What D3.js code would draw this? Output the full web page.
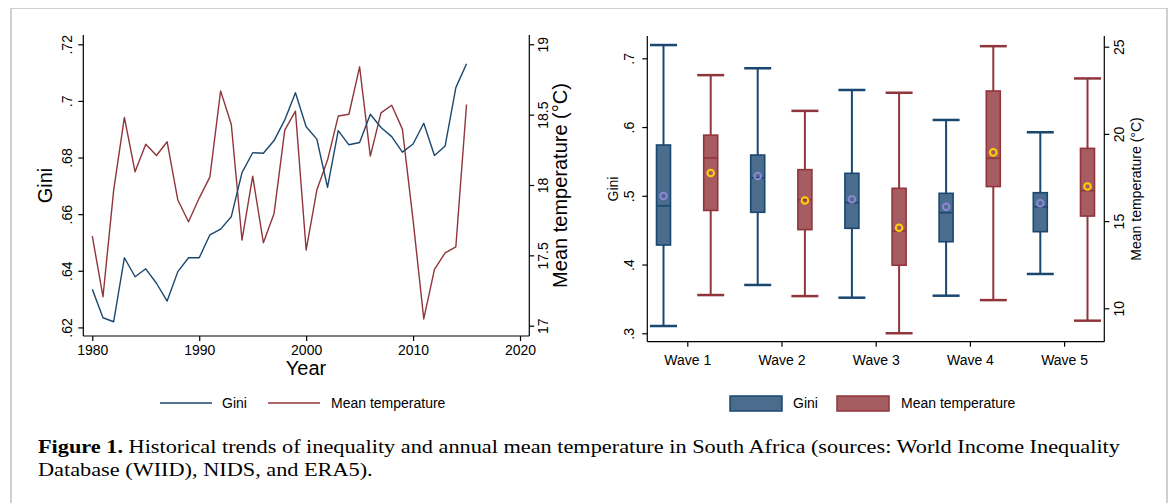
<!DOCTYPE html>
<html><head><meta charset="utf-8">
<script src="https://cdn.jsdelivr.net/npm/d3@7"></script>
<style>
html,body{margin:0;padding:0;background:#fff;}
svg{display:block;}
text{font-family:"Liberation Sans",Arial,sans-serif;fill:#000;}
</style></head>
<body>
<svg id="chart" width="1170" height="503"></svg>
<script>
// ---------- data ----------
const years = [1980,1981,1982,1983,1984,1985,1986,1987,1988,1989,1990,1991,1992,1993,1994,1995,1996,1997,1998,1999,2000,2001,2002,2003,2004,2005,2006,2007,2008,2009,2010,2011,2012,2013,2014,2015];
const giniSeries = [0.6335,0.6234,0.6220,0.6446,0.6379,0.6407,0.6356,0.6293,0.6397,0.6446,0.6446,0.6527,0.6547,0.6591,0.6747,0.6817,0.6815,0.6860,0.6933,0.7029,0.6909,0.6865,0.6695,0.6895,0.6845,0.6853,0.6953,0.6906,0.6874,0.6819,0.6848,0.6921,0.6807,0.6841,0.7047,0.7131];
const tempSeries = [17.637,17.206,17.964,18.480,18.094,18.290,18.210,18.307,17.893,17.739,17.907,18.058,18.669,18.430,17.609,18.063,17.590,17.798,18.390,18.525,17.538,17.964,18.177,18.490,18.503,18.840,18.205,18.513,18.567,18.397,17.750,17.048,17.400,17.518,17.561,18.572];
const yearTicks = [1980,1990,2000,2010,2020];
const giniTicksL = [0.62,0.64,0.66,0.68,0.70,0.72];
const giniTickLabelsL = [".62",".64",".66",".68",".7",".72"];
const tempTicksL = [17,17.5,18,18.5,19];

const waves = ["Wave 1","Wave 2","Wave 3","Wave 4","Wave 5"];
// box stats: [lowerWhisker, q1, median, q3, upperWhisker, mean]
const giniBox = [
  [0.3106,0.4284,0.4854,0.5739,0.7193,0.4997],
  [0.3703,0.4760,0.5263,0.5593,0.6855,0.5288],
  [0.3518,0.4527,0.4900,0.5327,0.6539,0.4949],
  [0.3547,0.4332,0.4754,0.5036,0.6103,0.4841],
  [0.3863,0.4478,0.4841,0.5045,0.5924,0.4891]
];
const tempBox = [
  [10.76,15.61,18.62,19.93,23.37,17.76],
  [10.70,14.51,16.22,17.95,21.32,16.18],
  [8.57,12.47,14.43,16.88,22.36,14.62],
  [10.47,16.98,18.60,22.46,25.03,18.94],
  [9.29,15.29,16.75,19.17,23.18,16.98]
];
const giniTicksR = [0.3,0.4,0.5,0.6,0.7];
const giniTickLabelsR = [".3",".4",".5",".6",".7"];
const tempTicksR = [10,15,20,25];
const legendLabels = ["Gini","Mean temperature"];
const captionBold = "Figure 1.";
const captionLine1 = " Historical trends of inequality and annual mean temperature in South Africa (sources: World Income Inequality";
const captionLine2 = "Database (WIID), NIDS, and ERA5).";

// ---------- styles ----------
const BLUE = "#1a476f", RED = "#90353b";
const BLUE_F = "#4a6d8d", RED_F = "#a65d62";
const svg = d3.select("#chart");

// figure frame
svg.append("line").attr("x1",11).attr("x2",1167).attr("y1",8.5).attr("y2",8.5).attr("stroke","#cfcfcf").attr("stroke-width",1);
svg.append("line").attr("x1",11).attr("x2",11).attr("y1",8).attr("y2",503).attr("stroke","#cfcfcf").attr("stroke-width",2);
svg.append("line").attr("x1",1167).attr("x2",1167).attr("y1",8).attr("y2",503).attr("stroke","#cfcfcf").attr("stroke-width",2);

function styleAxis(g, labels, offset){
  g.select(".domain").attr("stroke","#000").attr("stroke-width",1.2);
  g.selectAll(".tick line").attr("stroke","#000").attr("stroke-width",1.2);
  g.selectAll(".tick text").attr("font-size",14).attr("font-family","Liberation Sans, Arial, sans-serif").attr("fill","#000");
  if(offset!==undefined){
    g.selectAll(".tick text")
      .attr("x",0).attr("dy",0).attr("y",offset)
      .attr("transform","rotate(-90)").attr("text-anchor","middle");
  }
}

// ================= LEFT CHART =================
const xL = d3.scaleLinear().domain([1980,2020]).range([92.3,520]);
const yG = d3.scaleLinear().domain([0.62,0.72]).range([327.4,44.3]);
const yT = d3.scaleLinear().domain([17,19]).range([325.7,44.3]);
const L = {left:83.3, right:529.3, top:35, bottom:336};

const gx = svg.append("g").attr("transform",`translate(0,${L.bottom})`)
  .call(d3.axisBottom(xL).tickValues(yearTicks).tickFormat(d3.format("d")).tickSize(5).tickSizeOuter(0).tickPadding(3));
gx.select(".domain").attr("d",`M${L.left},0H${L.right}`);
styleAxis(gx);
gx.selectAll(".tick text").attr("y",14).attr("dy","0.35em");

const gyl = svg.append("g").attr("transform",`translate(${L.left},0)`)
  .call(d3.axisLeft(yG).tickValues(giniTicksL).tickFormat((d,i)=>giniTickLabelsL[i]).tickSize(5).tickSizeOuter(0));
gyl.select(".domain").attr("d",`M0,${L.top}V${L.bottom}`);
styleAxis(gyl,null,-11);

const gyr = svg.append("g").attr("transform",`translate(${L.right},0)`)
  .call(d3.axisRight(yT).tickValues(tempTicksL).tickFormat(d=>String(d)).tickSize(5).tickSizeOuter(0));
gyr.select(".domain").attr("d",`M0,${L.top}V${L.bottom}`);
styleAxis(gyr,null,19);

const lineG = d3.line().x((d,i)=>xL(years[i])).y(d=>yG(d));
const lineT = d3.line().x((d,i)=>xL(years[i])).y(d=>yT(d));
svg.append("path").attr("d",lineT(tempSeries)).attr("fill","none").attr("stroke",RED).attr("stroke-width",1.4).attr("stroke-linejoin","round");
svg.append("path").attr("d",lineG(giniSeries)).attr("fill","none").attr("stroke",BLUE).attr("stroke-width",1.4).attr("stroke-linejoin","round");

svg.append("text").attr("transform","translate(52,185.5) rotate(-90)").attr("text-anchor","middle").attr("font-size",20).text("Gini");
svg.append("text").attr("transform","translate(567,185.5) rotate(-90)").attr("text-anchor","middle").attr("font-size",20).text("Mean temperature (°C)");
svg.append("text").attr("x",306).attr("y",375).attr("text-anchor","middle").attr("font-size",20).text("Year");

// left legend
const legL = svg.append("g");
[[160,212,BLUE,222],[268,320,RED,331]].forEach((c,i)=>{
  legL.append("line").attr("x1",c[0]).attr("x2",c[1]).attr("y1",403).attr("y2",403).attr("stroke",c[2]).attr("stroke-width",1.5);
  legL.append("text").attr("x",c[3]).attr("y",408).attr("font-size",14).text(legendLabels[i]);
});

// ================= RIGHT CHART =================
const R = {left:647.3, right:1104.3, top:36, bottom:341.7};
const xW = d3.scalePoint().domain(waves).range([687.3,1064.1]);
const yGR = d3.scaleLinear().domain([0.3,0.7]).range([333.3,58.3]);
const yTR = d3.scaleLinear().domain([10,25]).range([308.3,46.7]);

const gxw = svg.append("g").attr("transform",`translate(0,${R.bottom})`)
  .call(d3.axisBottom(xW).tickSize(5).tickSizeOuter(0));
gxw.select(".domain").attr("d",`M${R.left},0H${R.right}`);
styleAxis(gxw);
gxw.selectAll(".tick text").attr("y",14).attr("dy","0.7em");

const gyl2 = svg.append("g").attr("transform",`translate(${R.left},0)`)
  .call(d3.axisLeft(yGR).tickValues(giniTicksR).tickFormat((d,i)=>giniTickLabelsR[i]).tickSize(5).tickSizeOuter(0));
gyl2.select(".domain").attr("d",`M0,${R.top}V${R.bottom}`);
styleAxis(gyl2,null,-13);

const gyr2 = svg.append("g").attr("transform",`translate(${R.right},0)`)
  .call(d3.axisRight(yTR).tickValues(tempTicksR).tickFormat(d=>String(d)).tickSize(5).tickSizeOuter(0));
gyr2.select(".domain").attr("d",`M0,${R.top}V${R.bottom}`);
styleAxis(gyr2,null,20);

svg.append("text").attr("transform","translate(618.3,189) rotate(-90)").attr("text-anchor","middle").attr("font-size",14).text("Gini");
svg.append("text").attr("transform","translate(1141,189) rotate(-90)").attr("text-anchor","middle").attr("font-size",14).text("Mean temperature (°C)");

function drawBoxes(data, y, dx, stroke, fill, meanCol){
  const g = svg.append("g");
  const bw = 14, cw = 27;
  data.forEach((s,i)=>{
    const cx = xW(waves[i]) + dx;
    // whiskers
    g.append("line").attr("x1",cx).attr("x2",cx).attr("y1",y(s[4])).attr("y2",y(s[3])).attr("stroke",stroke).attr("stroke-width",2);
    g.append("line").attr("x1",cx).attr("x2",cx).attr("y1",y(s[1])).attr("y2",y(s[0])).attr("stroke",stroke).attr("stroke-width",2);
    g.append("line").attr("x1",cx-cw/2).attr("x2",cx+cw/2).attr("y1",y(s[4])).attr("y2",y(s[4])).attr("stroke",stroke).attr("stroke-width",2.5);
    g.append("line").attr("x1",cx-cw/2).attr("x2",cx+cw/2).attr("y1",y(s[0])).attr("y2",y(s[0])).attr("stroke",stroke).attr("stroke-width",2.5);
    // box
    g.append("rect").attr("x",cx-bw/2).attr("y",y(s[3])).attr("width",bw).attr("height",y(s[1])-y(s[3]))
      .attr("fill",fill).attr("stroke",stroke).attr("stroke-width",1.6);
    g.append("line").attr("x1",cx-bw/2).attr("x2",cx+bw/2).attr("y1",y(s[2])).attr("y2",y(s[2])).attr("stroke",stroke).attr("stroke-width",1.6);
    // mean marker
    g.append("circle").attr("cx",cx).attr("cy",y(s[5])).attr("r",3.3).attr("fill","none").attr("stroke",meanCol).attr("stroke-width",2);
  });
}
drawBoxes(giniBox, yGR, -23.8, BLUE, BLUE_F, "#8f86d6");
drawBoxes(tempBox, yTR, 23.4, RED, RED_F, "#ffd200");

// right legend
const legR = svg.append("g");
[[730,BLUE,BLUE_F,793],[837,RED,RED_F,901]].forEach((c,i)=>{
  legR.append("rect").attr("x",c[0]).attr("y",396).attr("width",52).attr("height",15).attr("fill",c[2]).attr("stroke",c[1]).attr("stroke-width",1.5);
  legR.append("text").attr("x",c[3]).attr("y",408).attr("font-size",14).text(legendLabels[i]);
});

// ================= CAPTION =================
const cap = svg.append("g").attr("font-family","Liberation Serif, Times New Roman, serif");
const t1 = cap.append("text").attr("font-size",18.5).style("font-family","Liberation Serif, serif");
t1.append("tspan").attr("font-weight","bold").text(captionBold);
t1.append("tspan").text(captionLine1);
const t2 = cap.append("text").attr("font-size",18.5).style("font-family","Liberation Serif, serif").text(captionLine2);
const w1 = t1.node().getComputedTextLength();
const k = 1083 / w1;
t1.attr("transform",`translate(38,453) scale(${k},1)`);
t2.attr("transform",`translate(38,476) scale(${k},1)`);
</script>
</body></html>
